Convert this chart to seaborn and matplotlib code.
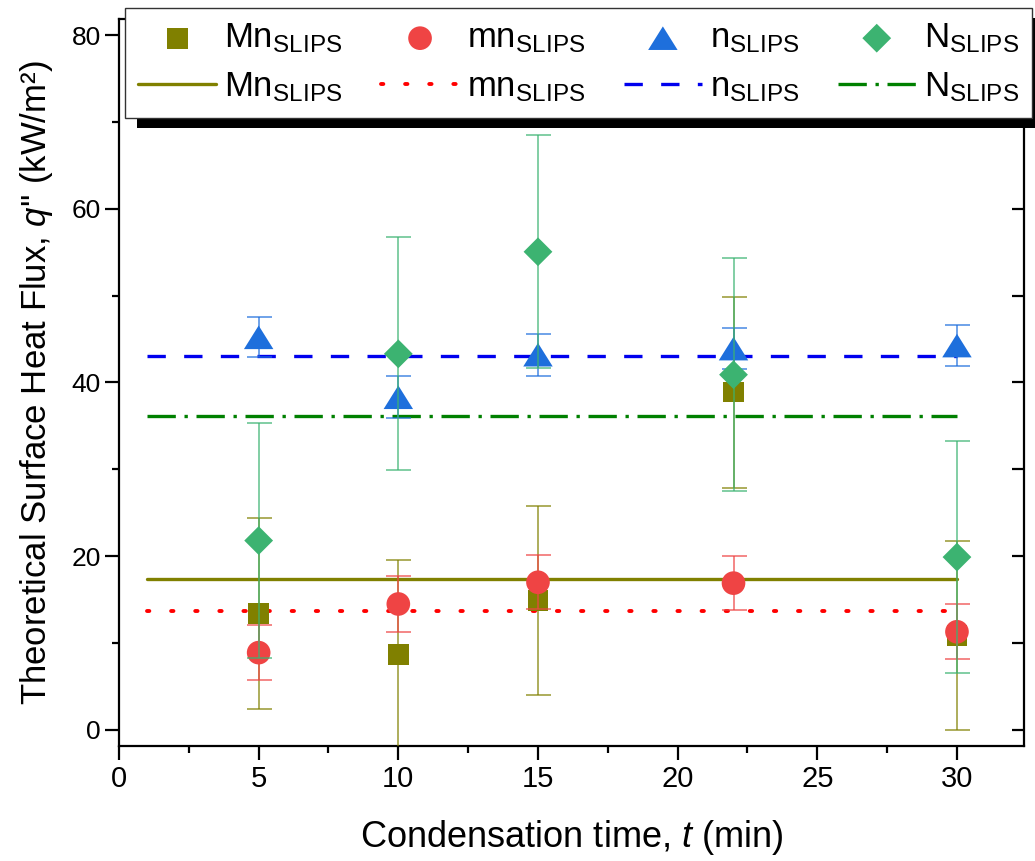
import numpy as np
import pandas as pd
import matplotlib
matplotlib.use("Agg")
import matplotlib.pyplot as plt
import seaborn as sns
from matplotlib.path import Path
from matplotlib.patches import Rectangle
from matplotlib.transforms import IdentityTransform
from matplotlib import font_manager as fm

# ---------------- data ----------------
t = [5, 10, 15, 22, 30]

Mn_q = [13.4, 8.7, 14.9, 38.9, 10.9]
Mn_err = [11.0, 10.9, 10.9, 11.0, 10.9]

mn_q = [8.9, 14.5, 17.0, 16.9, 11.3]
mn_err = [3.2, 3.2, 3.1, 3.1, 3.15]

n_q = [45.2, 38.3, 43.2, 43.9, 44.25]
n_err = [2.3, 2.4, 2.4, 2.4, 2.35]

N_q = [21.8, 43.3, 55.05, 40.9, 19.9]
N_err = [13.5, 13.4, 13.4, 13.4, 13.4]

mean_t = [1, 30]
Mn_mean = 17.35
mn_mean = 13.7
n_mean = 43.0
N_mean = 36.2

series_names = ["Mn", "mn", "n", "N"]

# ---------------- style ----------------
sns.set_theme(style="ticks")
names = {f.name for f in fm.fontManager.ttflist}
narrow = "Liberation Sans Narrow" if "Liberation Sans Narrow" in names else "Liberation Sans"
plt.rcParams["font.family"] = ["Liberation Sans", "DejaVu Sans"]
plt.rcParams["mathtext.fontset"] = "custom"
plt.rcParams["mathtext.rm"] = "Liberation Sans"
plt.rcParams["mathtext.it"] = "Liberation Sans:italic"
plt.rcParams["mathtext.bf"] = "Liberation Sans:bold"
plt.rcParams["text.color"] = "black"
plt.rcParams["axes.labelcolor"] = "black"
plt.rcParams["xtick.color"] = "black"
plt.rcParams["ytick.color"] = "black"

fig = plt.figure(figsize=(10.35, 8.61), dpi=100)
fig.patch.set_facecolor("white")
ax = fig.add_axes([119 / 1035, 1 - 746 / 861, (1024 - 119) / 1035, (746 - 19) / 861])
ax.set_facecolor("white")

tri = Path([(-1.0, -0.8), (1.0, -0.8), (0.0, 0.8), (-1.0, -0.8)],
           [Path.MOVETO, Path.LINETO, Path.LINETO, Path.CLOSEPOLY])

specs = {
    "Mn": dict(q=Mn_q, err=Mn_err, mean=Mn_mean, mcolor="#808000", lcolor="#808000",
               marker="s", s=225, ls="-"),
    "mn": dict(q=mn_q, err=mn_err, mean=mn_mean, mcolor="#EF4444", lcolor="#FF0000",
               marker="o", s=290, ls=(0, (0.6, 5.6))),
    "n": dict(q=n_q, err=n_err, mean=n_mean, mcolor="#1E6FDC", lcolor="#0000EE",
              marker=tri, s=450, ls=(0, (5.5, 5.5))),
    "N": dict(q=N_q, err=N_err, mean=N_mean, mcolor="#3CB371", lcolor="#008000",
              marker="D", s=215, ls=(0, (8.5, 2.6, 1.0, 2.6))),
}

marker_handles = []
line_handles = []
labels = []
for i, name in enumerate(series_names):
    sp = specs[name]
    df = pd.DataFrame({"t": t, "q": sp["q"], "err": sp["err"]})
    ax.errorbar(df["t"], df["q"], yerr=df["err"], fmt="none", ecolor=sp["mcolor"],
                elinewidth=1.2, capsize=9, capthick=1.2, alpha=0.75, zorder=3 + i)
    sns.scatterplot(data=df, x="t", y="q", ax=ax, marker=sp["marker"], s=sp["s"],
                    color=sp["mcolor"], edgecolor="none", linewidth=0, zorder=3 + i,
                    legend=False)
    marker_handles.append(ax.collections[-1])
    dfm = pd.DataFrame({"t": mean_t, "q": [sp["mean"]] * len(mean_t)})
    sns.lineplot(data=dfm, x="t", y="q", ax=ax, color=sp["lcolor"], linewidth=2.4,
                 linestyle=sp["ls"], zorder=2, legend=False)
    ln = ax.lines[-1]
    if name == "mn":
        ln.set_dash_capstyle("round")
        ln.set_linewidth(2.8)
    line_handles.append(ln)
    labels.append(name + r"$_{\mathregular{SLIPS}}$")

# ---------------- axes ----------------
ax.set_xlim(0, 32.4)
ax.set_ylim(-1.85, 81.85)
ax.set_xticks([0, 5, 10, 15, 20, 25, 30])
ax.set_xticks([2.5, 7.5, 12.5, 17.5, 22.5, 27.5], minor=True)
ax.set_yticks([0, 20, 40, 60, 80])
ax.set_yticks([10, 30, 50, 70], minor=True)
for lbl in ax.get_xticklabels():
    lbl.set_fontfamily(narrow)
ax.tick_params(axis="x", which="major", direction="out", length=10, width=1.6,
               labelsize=21, pad=4, colors="black")
ax.tick_params(axis="x", which="minor", direction="out", length=5, width=1.6)
ax.tick_params(axis="y", which="major", direction="out", length=10, width=1.6,
               labelsize=19, pad=3, colors="black")
ax.tick_params(axis="y", which="minor", direction="out", length=5, width=1.6)
for sp_ in ax.spines.values():
    sp_.set_linewidth(1.6)
    sp_.set_color("black")
    sp_.set_visible(True)

ax.set_xlabel("Condensation time, $t$ (min)", fontsize=26, family=narrow,
              labelpad=18, color="black")
ax.set_ylabel("Theoretical Surface Heat Flux, $q$'' (kW/m²)", fontsize=25,
              labelpad=12, color="black")

ax2 = ax.twinx()
ax2.set_ylim(ax.get_ylim())
ax2.set_yticks([0, 10, 20, 30, 40, 50, 60, 70, 80])
ax2.tick_params(axis="y", direction="in", length=9, width=1.6, labelright=False)
for sp_ in ax2.spines.values():
    sp_.set_visible(False)

# ---------------- legend ----------------
handles = []
leg_labels = []
for mh, lh, lb in zip(marker_handles, line_handles, labels):
    handles += [mh, lh]
    leg_labels += [lb, lb]
leg = ax2.legend(handles, leg_labels, ncol=4, loc="upper left",
                 bbox_to_anchor=(0.0066, 1.015, 1.0024, 0.0), mode="expand",
                 fontsize=25, frameon=True, fancybox=False, framealpha=1,
                 edgecolor="#333333", handlelength=2.25, handletextpad=0.23,
                 borderaxespad=0, borderpad=0.38, labelspacing=0.45,
                 scatterpoints=1, columnspacing=0.8)
leg.get_frame().set_linewidth(1.0)
leg.set_zorder(20)
for txt in leg.get_texts():
    txt.set_color("black")

fig.canvas.draw()
bb = leg.get_window_extent()
shadow = Rectangle((bb.x0 + 12, bb.y0 - 10), bb.width, bb.height, facecolor="black",
                   edgecolor="none", transform=IdentityTransform(), zorder=19,
                   clip_on=False)
ax2.add_patch(shadow)

fig.savefig("out.png", dpi=100, facecolor="white")
